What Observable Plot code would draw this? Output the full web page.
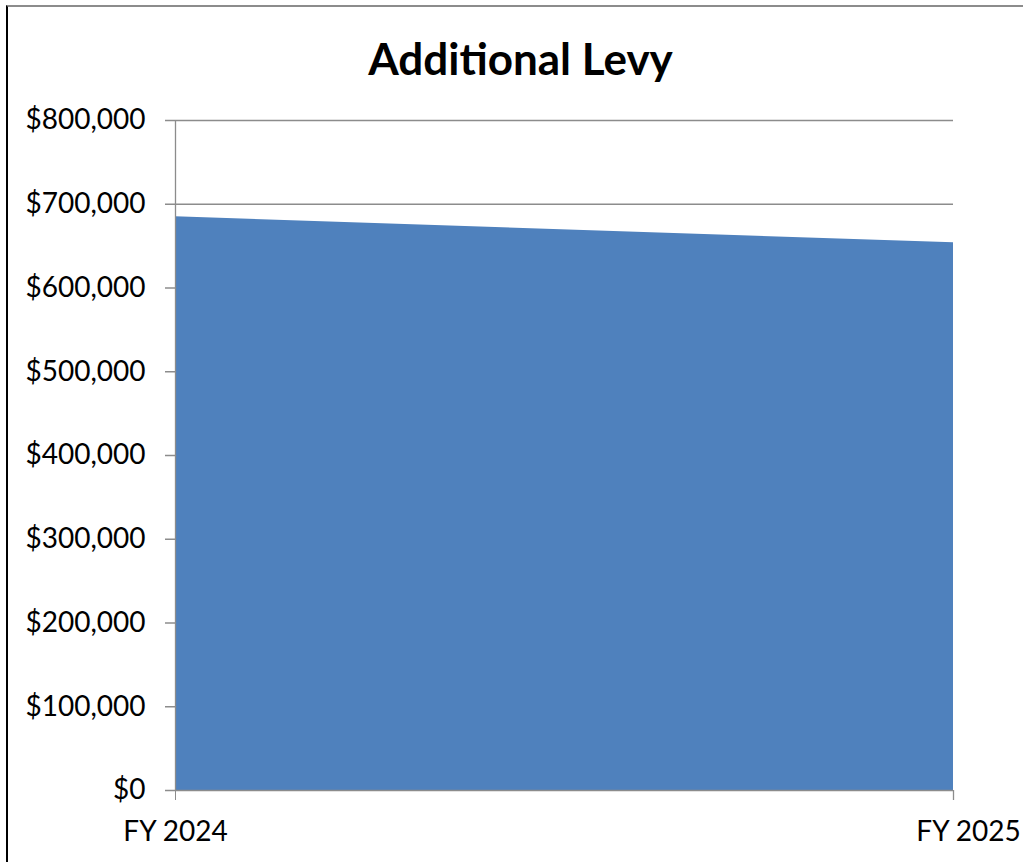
<!DOCTYPE html>
<html>
<head>
<meta charset="utf-8">
<script src="https://cdn.jsdelivr.net/npm/d3@7"></script>
<script src="https://cdn.jsdelivr.net/npm/@observablehq/plot@0.6"></script>
<style>
  html, body { margin: 0; padding: 0; background: #fff; }
  #wrap { position: relative; width: 1023px; height: 862px; overflow: hidden; }
  #frame { position: absolute; left: 6px; top: 5px; width: 1030px; height: 870px;
           border-left: 2px solid #000; border-top: 2px solid #8c8c8c; pointer-events: none; }
  svg { position: absolute; left: 0; top: 0; }
</style>
</head>
<body>
<div id="wrap"><div id="frame"></div></div>
<script>
const title = "Additional Levy";
const years = ["FY 2024", "FY 2025"];
const levy = [685000, 654000];
const yTicks = [0, 100000, 200000, 300000, 400000, 500000, 600000, 700000, 800000];

const data = years.map((y, i) => ({year: y, value: levy[i]}));
const fmt = d => "$" + d3.format(",")(d);
const font = "Lato, 'Open Sans', sans-serif";

const chart = Plot.plot({
  width: 1023,
  height: 862,
  marginLeft: 175,
  marginRight: 70,
  marginTop: 120,
  marginBottom: 72,
  style: {fontFamily: font, fontSize: "28px", color: "#000", background: "transparent"},
  x: {type: "point", domain: years, padding: 0},
  y: {domain: [0, 800000]},
  marks: [
    Plot.ruleY(yTicks.filter(d => d > 0), {stroke: "#8c8c8c", strokeWidth: 1.3, insetLeft: -10}),
    Plot.areaY(data, {x: "year", y: "value", fill: "#4F81BD"}),
    Plot.ruleY([0], {stroke: "#8c8c8c", strokeWidth: 1.3, insetLeft: -10}),
    Plot.ruleX([years[0]], {stroke: "#8c8c8c", strokeWidth: 1.3}),
    Plot.axisY({ticks: yTicks, tickFormat: fmt, tickSize: 0, tickPadding: 30, fill: "#000", label: null}),
    Plot.axisX({ticks: [years[0]], tickSize: 10, tickPadding: 21, stroke: "#8c8c8c", fill: "#000", label: null}),
    Plot.axisX({ticks: [years[1]], tickSize: 0, tickPadding: 31, dx: 15, fill: "#000", label: null}),
    Plot.ruleX([years[1]], {y1: 0, y2: 0, stroke: "#8c8c8c", strokeWidth: 1.3, insetBottom: -10}),
    Plot.text([title], {frameAnchor: "top", dy: -77, dx: -44, text: d => d, fontSize: 44, fontWeight: "bold", fill: "#000", fontFamily: font})
  ]
});
document.getElementById("wrap").insertBefore(chart, document.getElementById("frame"));
</script>
</body>
</html>
